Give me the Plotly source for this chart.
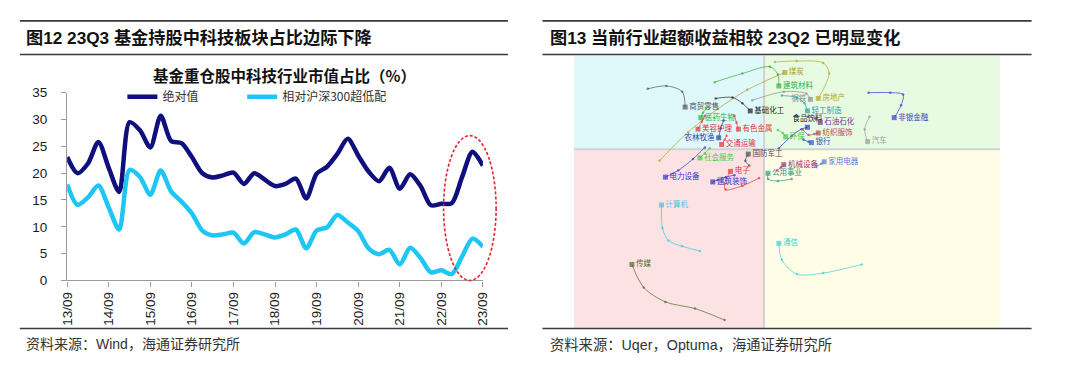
import plotly.graph_objects as go

W, H = 1080, 371


def px(x):
    return x / W


def py(y):
    return 1 - y / H


CJK = "Noto Sans CJK SC"
LAT = "Liberation Sans, Noto Sans CJK SC"

# ---------------- left chart data ----------------
quarters = ["13/09", "13/12", "14/03", "14/06", "14/09", "14/12", "15/03", "15/06",
            "15/09", "15/12", "16/03", "16/06", "16/09", "16/12", "17/03", "17/06",
            "17/09", "17/12", "18/03", "18/06", "18/09", "18/12", "19/03", "19/06",
            "19/09", "19/12", "20/03", "20/06", "20/09", "20/12", "21/03", "21/06",
            "21/09", "21/12", "22/03", "22/06", "22/09", "22/12", "23/03", "23/06",
            "23/09"]
year_ticks = ["13/09", "14/09", "15/09", "16/09", "17/09", "18/09", "19/09",
              "20/09", "21/09", "22/09", "23/09"]
abs_share = [23.0, 20.0, 21.8, 25.8, 21.0, 16.5, 29.5, 28.0, 24.8, 30.7, 26.0,
             25.6, 23.0, 20.0, 19.2, 19.6, 20.1, 18.0, 20.0, 18.8, 17.6, 18.0,
             19.0, 15.3, 19.9, 21.2, 23.6, 26.4, 23.3, 20.3, 18.5, 21.0, 17.1,
             19.8, 17.6, 14.0, 14.3, 14.4, 19.3, 24.0, 21.4]
rel_share = [17.9, 14.1, 15.5, 17.7, 13.6, 9.5, 20.6, 19.3, 16.0, 20.5, 16.6,
             14.7, 12.5, 9.3, 8.4, 8.6, 8.9, 6.9, 9.0, 8.6, 8.0, 8.6,
             9.5, 6.0, 9.3, 9.9, 12.2, 10.8, 9.2, 6.0, 4.9, 5.7, 3.0,
             6.1, 4.2, 1.5, 1.9, 1.2, 4.5, 7.8, 6.3]

# ---------------- right chart data (relative strength vs momentum) ----------------
sector_names = ["煤炭", "建筑材料", "房地产", "钢铁", "轻工制造", "食品饮料", "环保",
                "石油石化", "纺织服饰", "银行", "非银金融", "汽车", "机械设备",
                "家用电器", "公用事业", "通信", "计算机", "传媒", "电力设备",
                "社会服务", "电子", "建筑装饰", "商贸零售", "医药生物", "美容护理",
                "农林牧渔", "交通运输", "有色金属", "基础化工", "国防军工"]
sector_x = [
    [89.4, 92.3, 95.3, 98.3, 102.1],
    [95.0, 97.8, 100.6, 101.4, 101.5],
    [101.1, 103.3, 106.0, 106.6, 105.5],
    [98.8, 102.0, 104.3, 104.7],
    [101.8, 103.3, 104.1, 104.4],
    [101.5, 102.8, 103.8, 104.4],
    [101.4, 101.9, 102.2],
    [104.4, 105.2, 105.7],
    [103.9, 104.5, 105.1, 105.5],
    [104.0, 104.5, 104.8],
    [110.6, 112.8, 114.1, 113.9, 113.2],
    [110.7, 110.2, 110.5],
    [101.3, 101.7, 102.0],
    [105.3, 105.8, 106.1],
    [102.8, 101.4, 100.4, 100.4],
    [109.9, 106.0, 103.3, 101.8, 101.5],
    [93.5, 91.7, 90.3, 89.7, 89.6],
    [96.0, 93.0, 90.0, 87.8, 86.6],
    [94.0, 92.8, 91.3, 90.0],
    [94.5, 94.0, 93.5],
    [99.5, 97.8, 96.1, 96.0, 96.6],
    [97.0, 96.1, 95.3, 94.8],
    [88.2, 90.1, 91.7, 92.0],
    [94.1, 93.8, 93.6],
    [94.0, 93.7, 93.3],
    [95.9, 95.6, 95.4],
    [96.2, 96.0, 95.7],
    [97.0, 97.2, 97.4],
    [95.1, 96.8, 97.8, 98.6],
    [98.5, 98.1, 98.4],
]
sector_y = [
    [98.8, 101.8, 104.2, 106.2, 108.0],
    [107.0, 107.9, 108.6, 107.8, 106.6],
    [109.1, 109.2, 109.0, 107.9, 105.3],
    [105.1, 106.0, 105.8, 105.2],
    [105.6, 105.4, 104.8, 104.0],
    [100.1, 101.4, 102.1, 102.3],
    [102.0, 101.7, 101.3],
    [103.4, 103.2, 102.8],
    [102.1, 101.5, 101.6, 101.7],
    [101.0, 100.8, 100.7],
    [105.9, 105.9, 105.7, 104.6, 103.3],
    [103.4, 102.1, 100.8],
    [97.8, 98.1, 98.4],
    [98.2, 98.5, 98.7],
    [96.9, 96.7, 96.9, 97.5],
    [88.0, 87.1, 87.0, 88.5, 90.2],
    [89.4, 89.9, 90.5, 91.8, 94.2],
    [82.2, 83.4, 84.1, 85.6, 88.0],
    [100.2, 99.0, 97.8, 97.1],
    [100.1, 99.6, 99.1],
    [97.0, 96.2, 95.8, 96.4, 97.7],
    [97.3, 97.1, 96.8, 96.6],
    [106.3, 106.6, 106.0, 104.4],
    [104.2, 103.8, 103.3],
    [103.5, 102.9, 102.1],
    [103.0, 102.2, 101.2],
    [101.4, 101.0, 100.5],
    [103.5, 102.8, 102.1],
    [105.3, 105.4, 104.8, 104.0],
    [98.3, 98.8, 99.5],
]

# styles (kept apart from the data)
sector_colors = ["#B39C2E", "#3AAE3A", "#B8A42C", "#8E8E8E", "#27A3AD", "#2233CC",
                 "#3CCB3C", "#7B2F8F", "#B94848", "#3150C6", "#3041C2", "#9C9C9C",
                 "#972C79", "#5877D6", "#2A9A8C", "#3CCFD8", "#3ACBE0", "#4D6B2C",
                 "#3535CC", "#3ECB3E", "#E23434", "#2A33C0", "#555555", "#2FB52F",
                 "#E23434", "#2D3C9C", "#E23434", "#E23434", "#222222", "#4A4A4A"]
label_colors = list(sector_colors)
label_colors[5] = "#222222"
label_pos = ["middle right"] * len(sector_names)
label_pos[3] = "middle left"
label_pos[5] = "top center"
label_pos[25] = "middle left"


def fade(hex_color, alpha=0.7):
    h = hex_color.lstrip("#")
    r, g, b = int(h[0:2], 16), int(h[2:4], 16), int(h[4:6], 16)
    return f"rgba({r},{g},{b},{alpha})"


fig = go.Figure()

fig.add_trace(go.Scatter(
    x=quarters, y=abs_share, name="绝对值", mode="lines",
    line=dict(color="#0F0F7D", width=4.5, shape="spline", smoothing=0.8),
    xaxis="x", yaxis="y", hoverinfo="skip", legend="legend"))
fig.add_trace(go.Scatter(
    x=quarters, y=rel_share, name="相对沪深300超低配", mode="lines",
    line=dict(color="#1EC6F4", width=4.5, shape="spline", smoothing=0.8),
    xaxis="x", yaxis="y", hoverinfo="skip", legend="legend2"))

for name, xs, ys, c, lc, pos in zip(sector_names, sector_x, sector_y,
                                    sector_colors, label_colors, label_pos):
    n = len(xs)
    fig.add_trace(go.Scatter(
        x=xs, y=ys, xaxis="x2", yaxis="y2", mode="lines+markers+text",
        line=dict(color=fade(c), width=1, shape="spline", smoothing=0.9),
        marker=dict(color=c, size=[2.5] * (n - 1) + [5],
                    symbol=["circle"] * (n - 1) + ["square"], line=dict(width=0)),
        text=[""] * (n - 1) + [name], textposition=pos,
        textfont=dict(color=lc, size=7.5, family=CJK),
        showlegend=False, hoverinfo="skip", cliponaxis=False))

AX = "#9A9A9A"
shapes = []
# rules
for (x0, x1) in [(12, 507), (542, 1038)]:
    for yy in (14.5, 49.5, 335):
        shapes.append(dict(type="line", xref="paper", yref="paper",
                           x0=px(x0), x1=px(x1), y0=py(yy), y1=py(yy),
                           line=dict(color="#3A3A3A", width=1.6)))
# quadrants
qx0, qx1, qy0, qy1 = 80.73, 123.93, 81.33, 109.78
quads = [(qx0, 100, 100, qy1, "#DFF9FB"), (100, qx1, 100, qy1, "#E6FBE2"),
         (qx0, 100, qy0, 100, "#FDE2E3"), (100, qx1, qy0, 100, "#FFFDE5")]
for a, b, c0, d, col in quads:
    shapes.append(dict(type="rect", xref="x2", yref="y2", x0=a, x1=b, y0=c0, y1=d,
                       fillcolor=col, line=dict(width=0), layer="below"))
shapes.append(dict(type="line", xref="x2", yref="y2", x0=100, x1=100, y0=qy0, y1=qy1,
                   line=dict(color="#D2D2D2", width=2), layer="below"))
shapes.append(dict(type="line", xref="x2", yref="y2", x0=qx0, x1=qx1, y0=100, y1=100,
                   line=dict(color="#D2D2D2", width=2), layer="below"))
# highlight ellipse
shapes.append(dict(type="circle", xref="paper", yref="paper",
                   x0=px(441.7), x1=px(495), y0=py(285), y1=py(134),
                   line=dict(color="#E8202A", width=1.6, dash="3px,2px")))

annotations = [
    dict(text="<b>图12 23Q3 基金持股中科技板块占比边际下降</b>", x=px(16), y=py(32),
         xanchor="left", yanchor="middle", font=dict(size=17.2, family=LAT, color="#111")),
    dict(text="<b>图13 当前行业超额收益相较 23Q2 已明显变化</b>", x=px(548), y=py(32),
         xanchor="left", yanchor="middle", font=dict(size=17.2, family=LAT, color="#111")),
    dict(text="<b>基金重仓股中科技行业市值占比（%）</b>", x=px(280), y=py(71),
         xanchor="center", yanchor="middle", font=dict(size=15.5, family=CJK, color="#111")),
    dict(text="资料来源：Wind，海通证券研究所", x=px(16), y=py(351),
         xanchor="left", yanchor="middle", font=dict(size=14, family=LAT, color="#333")),
    dict(text="资料来源：Uqer，Optuma，海通证券研究所", x=px(548), y=py(352),
         xanchor="left", yanchor="middle", font=dict(size=14.3, family=LAT, color="#333")),
]
for a in annotations:
    a.update(xref="paper", yref="paper", showarrow=False)

legend_common = dict(orientation="h", y=py(93.5), xanchor="left", yanchor="middle",
                     font=dict(size=12, family=CJK, color="#333"),
                     bgcolor="rgba(0,0,0,0)", borderwidth=0)

fig.update_layout(
    width=W, height=H, margin=dict(l=0, r=0, t=0, b=0),
    paper_bgcolor="white", plot_bgcolor="white",
    font=dict(family=LAT, color="#1A1A1A"),
    showlegend=True,
    legend=dict(x=px(116), **legend_common),
    legend2=dict(x=px(237.5), **legend_common),
    xaxis=dict(domain=[px(60), px(481.6)], type="category", range=[0, 40],
               tickmode="array", tickvals=year_ticks, ticktext=year_ticks,
               tickangle=-90, ticks="outside", ticklen=5, tickcolor=AX,
               showline=True, linecolor=AX, linewidth=1.2, showgrid=False,
               zeroline=False, tickfont=dict(size=13.5, family=LAT, color="#1A1A1A"),
               anchor="y", fixedrange=True),
    yaxis=dict(domain=[py(285), py(89.3)], range=[0, 35], tickmode="linear",
               tick0=0, dtick=5, ticks="outside", ticklen=5, tickcolor=AX,
               showline=True, linecolor=AX, linewidth=1.2, showgrid=False,
               zeroline=False, tickfont=dict(size=13.5, family=LAT, color="#1A1A1A"),
               ticklabelstandoff=11, anchor="x", fixedrange=True),
    xaxis2=dict(domain=[px(574), px(1006)], range=[qx0, qx1], visible=False,
                anchor="y2", fixedrange=True),
    yaxis2=dict(domain=[py(335), py(50.5)], range=[qy0, qy1], visible=False,
                anchor="x2", fixedrange=True),
    shapes=shapes, annotations=annotations,
)

fig.write_html("out.html", config={"displayModeBar": False},
               post_script="document.body.style.margin='0px';")
